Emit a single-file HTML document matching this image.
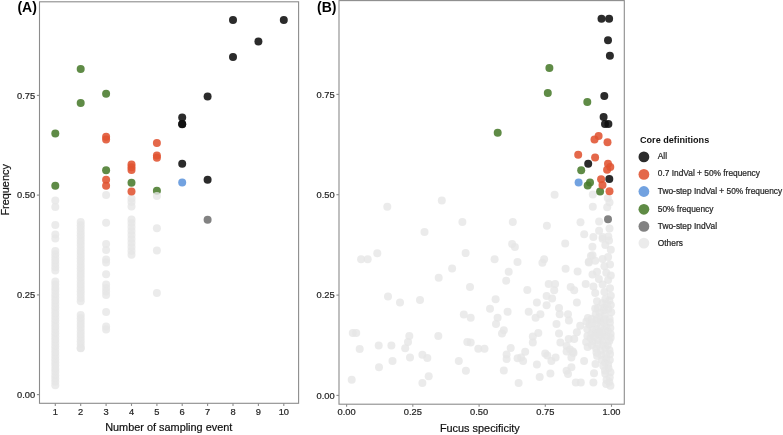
<!DOCTYPE html><html><head><meta charset="utf-8"><style>html,body{margin:0;padding:0;background:#fff;width:783px;height:435px;overflow:hidden}svg{display:block;will-change:transform}text{font-family:"Liberation Sans",sans-serif} .t{stroke:currentColor;stroke-width:0.25px}</style></head><body>
<svg width="783" height="435" viewBox="0 0 783 435">
<rect width="783" height="435" fill="#fff"/>
<circle cx="55.3" cy="200.5" r="4.0" fill="#e6e6e6" fill-opacity="0.8"/>
<circle cx="55.3" cy="207.0" r="4.0" fill="#e6e6e6" fill-opacity="0.8"/>
<circle cx="55.3" cy="225.0" r="4.0" fill="#e6e6e6" fill-opacity="0.8"/>
<circle cx="55.3" cy="234.5" r="4.0" fill="#e6e6e6" fill-opacity="0.8"/>
<circle cx="55.3" cy="238.5" r="4.0" fill="#e6e6e6" fill-opacity="0.8"/>
<circle cx="55.3" cy="251.0" r="4.0" fill="#e6e6e6" fill-opacity="0.8"/>
<circle cx="55.3" cy="254.2" r="4.0" fill="#e6e6e6" fill-opacity="0.8"/>
<circle cx="55.3" cy="257.5" r="4.0" fill="#e6e6e6" fill-opacity="0.8"/>
<circle cx="55.3" cy="260.8" r="4.0" fill="#e6e6e6" fill-opacity="0.8"/>
<circle cx="55.3" cy="264.0" r="4.0" fill="#e6e6e6" fill-opacity="0.8"/>
<circle cx="55.3" cy="267.2" r="4.0" fill="#e6e6e6" fill-opacity="0.8"/>
<circle cx="55.3" cy="270.5" r="4.0" fill="#e6e6e6" fill-opacity="0.8"/>
<circle cx="55.3" cy="281.4" r="4.0" fill="#e6e6e6" fill-opacity="0.8"/>
<circle cx="55.3" cy="284.6" r="4.0" fill="#e6e6e6" fill-opacity="0.8"/>
<circle cx="55.3" cy="287.9" r="4.0" fill="#e6e6e6" fill-opacity="0.8"/>
<circle cx="55.3" cy="291.1" r="4.0" fill="#e6e6e6" fill-opacity="0.8"/>
<circle cx="55.3" cy="294.4" r="4.0" fill="#e6e6e6" fill-opacity="0.8"/>
<circle cx="55.3" cy="297.6" r="4.0" fill="#e6e6e6" fill-opacity="0.8"/>
<circle cx="55.3" cy="300.8" r="4.0" fill="#e6e6e6" fill-opacity="0.8"/>
<circle cx="55.3" cy="304.1" r="4.0" fill="#e6e6e6" fill-opacity="0.8"/>
<circle cx="55.3" cy="307.3" r="4.0" fill="#e6e6e6" fill-opacity="0.8"/>
<circle cx="55.3" cy="310.6" r="4.0" fill="#e6e6e6" fill-opacity="0.8"/>
<circle cx="55.3" cy="313.8" r="4.0" fill="#e6e6e6" fill-opacity="0.8"/>
<circle cx="55.3" cy="317.0" r="4.0" fill="#e6e6e6" fill-opacity="0.8"/>
<circle cx="55.3" cy="320.3" r="4.0" fill="#e6e6e6" fill-opacity="0.8"/>
<circle cx="55.3" cy="323.5" r="4.0" fill="#e6e6e6" fill-opacity="0.8"/>
<circle cx="55.3" cy="326.8" r="4.0" fill="#e6e6e6" fill-opacity="0.8"/>
<circle cx="55.3" cy="330.0" r="4.0" fill="#e6e6e6" fill-opacity="0.8"/>
<circle cx="55.3" cy="333.2" r="4.0" fill="#e6e6e6" fill-opacity="0.8"/>
<circle cx="55.3" cy="336.5" r="4.0" fill="#e6e6e6" fill-opacity="0.8"/>
<circle cx="55.3" cy="339.7" r="4.0" fill="#e6e6e6" fill-opacity="0.8"/>
<circle cx="55.3" cy="343.0" r="4.0" fill="#e6e6e6" fill-opacity="0.8"/>
<circle cx="55.3" cy="346.2" r="4.0" fill="#e6e6e6" fill-opacity="0.8"/>
<circle cx="55.3" cy="349.4" r="4.0" fill="#e6e6e6" fill-opacity="0.8"/>
<circle cx="55.3" cy="352.7" r="4.0" fill="#e6e6e6" fill-opacity="0.8"/>
<circle cx="55.3" cy="355.9" r="4.0" fill="#e6e6e6" fill-opacity="0.8"/>
<circle cx="55.3" cy="359.2" r="4.0" fill="#e6e6e6" fill-opacity="0.8"/>
<circle cx="55.3" cy="362.4" r="4.0" fill="#e6e6e6" fill-opacity="0.8"/>
<circle cx="55.3" cy="365.6" r="4.0" fill="#e6e6e6" fill-opacity="0.8"/>
<circle cx="55.3" cy="368.9" r="4.0" fill="#e6e6e6" fill-opacity="0.8"/>
<circle cx="55.3" cy="372.1" r="4.0" fill="#e6e6e6" fill-opacity="0.8"/>
<circle cx="55.3" cy="375.4" r="4.0" fill="#e6e6e6" fill-opacity="0.8"/>
<circle cx="55.3" cy="378.6" r="4.0" fill="#e6e6e6" fill-opacity="0.8"/>
<circle cx="55.3" cy="381.8" r="4.0" fill="#e6e6e6" fill-opacity="0.8"/>
<circle cx="55.3" cy="385.2" r="4.0" fill="#e6e6e6" fill-opacity="0.8"/>
<circle cx="80.7" cy="222.0" r="4.0" fill="#e6e6e6" fill-opacity="0.8"/>
<circle cx="80.7" cy="225.3" r="4.0" fill="#e6e6e6" fill-opacity="0.8"/>
<circle cx="80.7" cy="228.6" r="4.0" fill="#e6e6e6" fill-opacity="0.8"/>
<circle cx="80.7" cy="231.9" r="4.0" fill="#e6e6e6" fill-opacity="0.8"/>
<circle cx="80.7" cy="235.2" r="4.0" fill="#e6e6e6" fill-opacity="0.8"/>
<circle cx="80.7" cy="238.5" r="4.0" fill="#e6e6e6" fill-opacity="0.8"/>
<circle cx="80.7" cy="241.8" r="4.0" fill="#e6e6e6" fill-opacity="0.8"/>
<circle cx="80.7" cy="245.1" r="4.0" fill="#e6e6e6" fill-opacity="0.8"/>
<circle cx="80.7" cy="248.4" r="4.0" fill="#e6e6e6" fill-opacity="0.8"/>
<circle cx="80.7" cy="251.7" r="4.0" fill="#e6e6e6" fill-opacity="0.8"/>
<circle cx="80.7" cy="255.0" r="4.0" fill="#e6e6e6" fill-opacity="0.8"/>
<circle cx="80.7" cy="258.3" r="4.0" fill="#e6e6e6" fill-opacity="0.8"/>
<circle cx="80.7" cy="261.6" r="4.0" fill="#e6e6e6" fill-opacity="0.8"/>
<circle cx="80.7" cy="264.9" r="4.0" fill="#e6e6e6" fill-opacity="0.8"/>
<circle cx="80.7" cy="268.2" r="4.0" fill="#e6e6e6" fill-opacity="0.8"/>
<circle cx="80.7" cy="271.5" r="4.0" fill="#e6e6e6" fill-opacity="0.8"/>
<circle cx="80.7" cy="274.8" r="4.0" fill="#e6e6e6" fill-opacity="0.8"/>
<circle cx="80.7" cy="278.1" r="4.0" fill="#e6e6e6" fill-opacity="0.8"/>
<circle cx="80.7" cy="281.4" r="4.0" fill="#e6e6e6" fill-opacity="0.8"/>
<circle cx="80.7" cy="284.7" r="4.0" fill="#e6e6e6" fill-opacity="0.8"/>
<circle cx="80.7" cy="288.0" r="4.0" fill="#e6e6e6" fill-opacity="0.8"/>
<circle cx="80.7" cy="291.3" r="4.0" fill="#e6e6e6" fill-opacity="0.8"/>
<circle cx="80.7" cy="294.6" r="4.0" fill="#e6e6e6" fill-opacity="0.8"/>
<circle cx="80.7" cy="297.9" r="4.0" fill="#e6e6e6" fill-opacity="0.8"/>
<circle cx="80.7" cy="301.2" r="4.0" fill="#e6e6e6" fill-opacity="0.8"/>
<circle cx="80.7" cy="314.9" r="4.0" fill="#e6e6e6" fill-opacity="0.8"/>
<circle cx="80.7" cy="318.2" r="4.0" fill="#e6e6e6" fill-opacity="0.8"/>
<circle cx="80.7" cy="321.5" r="4.0" fill="#e6e6e6" fill-opacity="0.8"/>
<circle cx="80.7" cy="324.8" r="4.0" fill="#e6e6e6" fill-opacity="0.8"/>
<circle cx="80.7" cy="328.1" r="4.0" fill="#e6e6e6" fill-opacity="0.8"/>
<circle cx="80.7" cy="331.4" r="4.0" fill="#e6e6e6" fill-opacity="0.8"/>
<circle cx="80.7" cy="334.7" r="4.0" fill="#e6e6e6" fill-opacity="0.8"/>
<circle cx="80.7" cy="338.0" r="4.0" fill="#e6e6e6" fill-opacity="0.8"/>
<circle cx="80.7" cy="341.3" r="4.0" fill="#e6e6e6" fill-opacity="0.8"/>
<circle cx="80.7" cy="344.6" r="4.0" fill="#e6e6e6" fill-opacity="0.8"/>
<circle cx="80.7" cy="347.9" r="4.0" fill="#e6e6e6" fill-opacity="0.8"/>
<circle cx="80.7" cy="348.3" r="4.0" fill="#e6e6e6" fill-opacity="0.8"/>
<circle cx="106.1" cy="195.1" r="4.0" fill="#e6e6e6" fill-opacity="0.8"/>
<circle cx="106.1" cy="222.7" r="4.0" fill="#e6e6e6" fill-opacity="0.8"/>
<circle cx="106.1" cy="244.0" r="4.0" fill="#e6e6e6" fill-opacity="0.8"/>
<circle cx="106.1" cy="250.0" r="4.0" fill="#e6e6e6" fill-opacity="0.8"/>
<circle cx="106.1" cy="259.5" r="4.0" fill="#e6e6e6" fill-opacity="0.8"/>
<circle cx="106.1" cy="262.5" r="4.0" fill="#e6e6e6" fill-opacity="0.8"/>
<circle cx="106.1" cy="274.3" r="4.0" fill="#e6e6e6" fill-opacity="0.8"/>
<circle cx="106.1" cy="284.5" r="4.0" fill="#e6e6e6" fill-opacity="0.8"/>
<circle cx="106.1" cy="288.0" r="4.0" fill="#e6e6e6" fill-opacity="0.8"/>
<circle cx="106.1" cy="291.5" r="4.0" fill="#e6e6e6" fill-opacity="0.8"/>
<circle cx="106.1" cy="295.0" r="4.0" fill="#e6e6e6" fill-opacity="0.8"/>
<circle cx="106.1" cy="312.0" r="4.0" fill="#e6e6e6" fill-opacity="0.8"/>
<circle cx="106.1" cy="326.5" r="4.0" fill="#e6e6e6" fill-opacity="0.8"/>
<circle cx="106.1" cy="329.5" r="4.0" fill="#e6e6e6" fill-opacity="0.8"/>
<circle cx="131.5" cy="198.5" r="4.0" fill="#e6e6e6" fill-opacity="0.8"/>
<circle cx="131.5" cy="202.0" r="4.0" fill="#e6e6e6" fill-opacity="0.8"/>
<circle cx="131.5" cy="206.5" r="4.0" fill="#e6e6e6" fill-opacity="0.8"/>
<circle cx="131.5" cy="219.5" r="4.0" fill="#e6e6e6" fill-opacity="0.8"/>
<circle cx="131.5" cy="223.0" r="4.0" fill="#e6e6e6" fill-opacity="0.8"/>
<circle cx="131.5" cy="227.0" r="4.0" fill="#e6e6e6" fill-opacity="0.8"/>
<circle cx="131.5" cy="231.0" r="4.0" fill="#e6e6e6" fill-opacity="0.8"/>
<circle cx="131.5" cy="235.0" r="4.0" fill="#e6e6e6" fill-opacity="0.8"/>
<circle cx="131.5" cy="239.0" r="4.0" fill="#e6e6e6" fill-opacity="0.8"/>
<circle cx="131.5" cy="243.0" r="4.0" fill="#e6e6e6" fill-opacity="0.8"/>
<circle cx="131.5" cy="247.0" r="4.0" fill="#e6e6e6" fill-opacity="0.8"/>
<circle cx="131.5" cy="251.0" r="4.0" fill="#e6e6e6" fill-opacity="0.8"/>
<circle cx="131.5" cy="254.7" r="4.0" fill="#e6e6e6" fill-opacity="0.8"/>
<circle cx="156.9" cy="228.3" r="4.0" fill="#e6e6e6" fill-opacity="0.8"/>
<circle cx="156.9" cy="250.4" r="4.0" fill="#e6e6e6" fill-opacity="0.8"/>
<circle cx="156.9" cy="293.1" r="4.0" fill="#e6e6e6" fill-opacity="0.8"/>
<circle cx="55.3" cy="133.4" r="4.0" fill="#497b2c" fill-opacity="0.88"/>
<circle cx="55.3" cy="185.8" r="4.0" fill="#497b2c" fill-opacity="0.88"/>
<circle cx="80.7" cy="69.0" r="4.0" fill="#497b2c" fill-opacity="0.88"/>
<circle cx="80.7" cy="102.9" r="4.0" fill="#497b2c" fill-opacity="0.88"/>
<circle cx="106.1" cy="93.7" r="4.0" fill="#497b2c" fill-opacity="0.88"/>
<circle cx="106.1" cy="170.2" r="4.0" fill="#497b2c" fill-opacity="0.88"/>
<circle cx="131.5" cy="182.8" r="4.0" fill="#497b2c" fill-opacity="0.88"/>
<circle cx="156.9" cy="190.8" r="4.0" fill="#497b2c" fill-opacity="0.88"/>
<circle cx="106.1" cy="136.8" r="4.0" fill="#e05331" fill-opacity="0.88"/>
<circle cx="106.1" cy="139.6" r="4.0" fill="#e05331" fill-opacity="0.88"/>
<circle cx="106.1" cy="179.8" r="4.0" fill="#e05331" fill-opacity="0.88"/>
<circle cx="106.1" cy="185.7" r="4.0" fill="#e05331" fill-opacity="0.88"/>
<circle cx="131.5" cy="164.5" r="4.0" fill="#e05331" fill-opacity="0.88"/>
<circle cx="131.5" cy="167.3" r="4.0" fill="#e05331" fill-opacity="0.88"/>
<circle cx="131.5" cy="170.1" r="4.0" fill="#e05331" fill-opacity="0.88"/>
<circle cx="131.5" cy="191.6" r="4.0" fill="#e05331" fill-opacity="0.88"/>
<circle cx="156.9" cy="143.0" r="4.0" fill="#e05331" fill-opacity="0.88"/>
<circle cx="156.9" cy="155.4" r="4.0" fill="#e05331" fill-opacity="0.88"/>
<circle cx="156.9" cy="157.7" r="4.0" fill="#e05331" fill-opacity="0.88"/>
<circle cx="182.2" cy="117.5" r="4.0" fill="#0e0e0e" fill-opacity="0.88"/>
<circle cx="182.2" cy="124.1" r="4.0" fill="#0e0e0e" fill-opacity="0.88"/>
<circle cx="182.2" cy="124.3" r="4.0" fill="#0e0e0e" fill-opacity="0.88"/>
<circle cx="182.2" cy="163.8" r="4.0" fill="#0e0e0e" fill-opacity="0.88"/>
<circle cx="207.6" cy="96.6" r="4.0" fill="#0e0e0e" fill-opacity="0.88"/>
<circle cx="207.6" cy="179.7" r="4.0" fill="#0e0e0e" fill-opacity="0.88"/>
<circle cx="233.0" cy="19.9" r="4.0" fill="#0e0e0e" fill-opacity="0.88"/>
<circle cx="233.0" cy="56.9" r="4.0" fill="#0e0e0e" fill-opacity="0.88"/>
<circle cx="258.4" cy="41.4" r="4.0" fill="#0e0e0e" fill-opacity="0.88"/>
<circle cx="283.8" cy="19.9" r="4.0" fill="#0e0e0e" fill-opacity="0.88"/>
<circle cx="182.2" cy="182.5" r="4.0" fill="#5f95dc" fill-opacity="0.88"/>
<circle cx="207.6" cy="219.7" r="4.0" fill="#717171" fill-opacity="0.88"/>
<circle cx="156.9" cy="196.0" r="4.0" fill="#e6e6e6" fill-opacity="0.8"/>
<circle cx="387.3" cy="206.8" r="4.0" fill="#e6e6e6" fill-opacity="0.8"/>
<circle cx="361.1" cy="259.2" r="4.0" fill="#e6e6e6" fill-opacity="0.8"/>
<circle cx="367.7" cy="259.2" r="4.0" fill="#e6e6e6" fill-opacity="0.8"/>
<circle cx="377.3" cy="253.3" r="4.0" fill="#e6e6e6" fill-opacity="0.8"/>
<circle cx="388.0" cy="296.4" r="4.0" fill="#e6e6e6" fill-opacity="0.8"/>
<circle cx="352.8" cy="333.1" r="4.0" fill="#e6e6e6" fill-opacity="0.8"/>
<circle cx="356.2" cy="333.1" r="4.0" fill="#e6e6e6" fill-opacity="0.8"/>
<circle cx="359.7" cy="349.0" r="4.0" fill="#e6e6e6" fill-opacity="0.8"/>
<circle cx="378.7" cy="345.5" r="4.0" fill="#e6e6e6" fill-opacity="0.8"/>
<circle cx="391.4" cy="345.5" r="4.0" fill="#e6e6e6" fill-opacity="0.8"/>
<circle cx="400.0" cy="302.5" r="4.0" fill="#e6e6e6" fill-opacity="0.8"/>
<circle cx="351.7" cy="379.7" r="4.0" fill="#e6e6e6" fill-opacity="0.8"/>
<circle cx="379.0" cy="367.2" r="4.0" fill="#e6e6e6" fill-opacity="0.8"/>
<circle cx="392.5" cy="361.0" r="4.0" fill="#e6e6e6" fill-opacity="0.8"/>
<circle cx="441.8" cy="200.4" r="4.0" fill="#e6e6e6" fill-opacity="0.8"/>
<circle cx="424.5" cy="231.9" r="4.0" fill="#e6e6e6" fill-opacity="0.8"/>
<circle cx="452.1" cy="268.4" r="4.0" fill="#e6e6e6" fill-opacity="0.8"/>
<circle cx="438.7" cy="277.8" r="4.0" fill="#e6e6e6" fill-opacity="0.8"/>
<circle cx="420.0" cy="300.0" r="4.0" fill="#e6e6e6" fill-opacity="0.8"/>
<circle cx="409.3" cy="336.1" r="4.0" fill="#e6e6e6" fill-opacity="0.8"/>
<circle cx="408.0" cy="342.0" r="4.0" fill="#e6e6e6" fill-opacity="0.8"/>
<circle cx="405.2" cy="348.3" r="4.0" fill="#e6e6e6" fill-opacity="0.8"/>
<circle cx="438.3" cy="336.1" r="4.0" fill="#e6e6e6" fill-opacity="0.8"/>
<circle cx="410.0" cy="357.4" r="4.0" fill="#e6e6e6" fill-opacity="0.8"/>
<circle cx="422.4" cy="354.8" r="4.0" fill="#e6e6e6" fill-opacity="0.8"/>
<circle cx="427.3" cy="357.9" r="4.0" fill="#e6e6e6" fill-opacity="0.8"/>
<circle cx="428.7" cy="376.2" r="4.0" fill="#e6e6e6" fill-opacity="0.8"/>
<circle cx="422.4" cy="383.1" r="4.0" fill="#e6e6e6" fill-opacity="0.8"/>
<circle cx="458.8" cy="361.0" r="4.0" fill="#e6e6e6" fill-opacity="0.8"/>
<circle cx="462.4" cy="222.0" r="4.0" fill="#e6e6e6" fill-opacity="0.8"/>
<circle cx="512.8" cy="222.0" r="4.0" fill="#e6e6e6" fill-opacity="0.8"/>
<circle cx="512.1" cy="243.9" r="4.0" fill="#e6e6e6" fill-opacity="0.8"/>
<circle cx="514.9" cy="246.9" r="4.0" fill="#e6e6e6" fill-opacity="0.8"/>
<circle cx="465.6" cy="253.1" r="4.0" fill="#e6e6e6" fill-opacity="0.8"/>
<circle cx="494.6" cy="259.3" r="4.0" fill="#e6e6e6" fill-opacity="0.8"/>
<circle cx="517.5" cy="262.1" r="4.0" fill="#e6e6e6" fill-opacity="0.8"/>
<circle cx="508.7" cy="271.7" r="4.0" fill="#e6e6e6" fill-opacity="0.8"/>
<circle cx="506.2" cy="280.7" r="4.0" fill="#e6e6e6" fill-opacity="0.8"/>
<circle cx="470.0" cy="286.9" r="4.0" fill="#e6e6e6" fill-opacity="0.8"/>
<circle cx="495.6" cy="299.2" r="4.0" fill="#e6e6e6" fill-opacity="0.8"/>
<circle cx="490.0" cy="308.8" r="4.0" fill="#e6e6e6" fill-opacity="0.8"/>
<circle cx="507.6" cy="311.8" r="4.0" fill="#e6e6e6" fill-opacity="0.8"/>
<circle cx="463.8" cy="314.6" r="4.0" fill="#e6e6e6" fill-opacity="0.8"/>
<circle cx="470.7" cy="317.8" r="4.0" fill="#e6e6e6" fill-opacity="0.8"/>
<circle cx="497.6" cy="317.8" r="4.0" fill="#e6e6e6" fill-opacity="0.8"/>
<circle cx="496.0" cy="324.0" r="4.0" fill="#e6e6e6" fill-opacity="0.8"/>
<circle cx="503.8" cy="330.2" r="4.0" fill="#e6e6e6" fill-opacity="0.8"/>
<circle cx="502.0" cy="333.6" r="4.0" fill="#e6e6e6" fill-opacity="0.8"/>
<circle cx="467.3" cy="341.9" r="4.0" fill="#e6e6e6" fill-opacity="0.8"/>
<circle cx="470.7" cy="342.6" r="4.0" fill="#e6e6e6" fill-opacity="0.8"/>
<circle cx="478.3" cy="348.8" r="4.0" fill="#e6e6e6" fill-opacity="0.8"/>
<circle cx="484.5" cy="348.8" r="4.0" fill="#e6e6e6" fill-opacity="0.8"/>
<circle cx="510.7" cy="348.1" r="4.0" fill="#e6e6e6" fill-opacity="0.8"/>
<circle cx="506.6" cy="354.5" r="4.0" fill="#e6e6e6" fill-opacity="0.8"/>
<circle cx="506.6" cy="359.0" r="4.0" fill="#e6e6e6" fill-opacity="0.8"/>
<circle cx="465.9" cy="370.7" r="4.0" fill="#e6e6e6" fill-opacity="0.8"/>
<circle cx="503.8" cy="370.4" r="4.0" fill="#e6e6e6" fill-opacity="0.8"/>
<circle cx="517.6" cy="358.3" r="4.0" fill="#e6e6e6" fill-opacity="0.8"/>
<circle cx="518.6" cy="383.1" r="4.0" fill="#e6e6e6" fill-opacity="0.8"/>
<circle cx="554.6" cy="194.7" r="4.0" fill="#e6e6e6" fill-opacity="0.8"/>
<circle cx="546.9" cy="225.7" r="4.0" fill="#e6e6e6" fill-opacity="0.8"/>
<circle cx="580.5" cy="222.2" r="4.0" fill="#e6e6e6" fill-opacity="0.8"/>
<circle cx="565.2" cy="243.4" r="4.0" fill="#e6e6e6" fill-opacity="0.8"/>
<circle cx="544.1" cy="259.3" r="4.0" fill="#e6e6e6" fill-opacity="0.8"/>
<circle cx="542.4" cy="262.8" r="4.0" fill="#e6e6e6" fill-opacity="0.8"/>
<circle cx="565.6" cy="268.7" r="4.0" fill="#e6e6e6" fill-opacity="0.8"/>
<circle cx="577.6" cy="271.4" r="4.0" fill="#e6e6e6" fill-opacity="0.8"/>
<circle cx="548.7" cy="283.9" r="4.0" fill="#e6e6e6" fill-opacity="0.8"/>
<circle cx="555.1" cy="283.9" r="4.0" fill="#e6e6e6" fill-opacity="0.8"/>
<circle cx="554.2" cy="290.3" r="4.0" fill="#e6e6e6" fill-opacity="0.8"/>
<circle cx="570.7" cy="286.9" r="4.0" fill="#e6e6e6" fill-opacity="0.8"/>
<circle cx="574.2" cy="290.3" r="4.0" fill="#e6e6e6" fill-opacity="0.8"/>
<circle cx="527.3" cy="289.9" r="4.0" fill="#e6e6e6" fill-opacity="0.8"/>
<circle cx="546.6" cy="296.0" r="4.0" fill="#e6e6e6" fill-opacity="0.8"/>
<circle cx="552.1" cy="298.5" r="4.0" fill="#e6e6e6" fill-opacity="0.8"/>
<circle cx="536.9" cy="302.6" r="4.0" fill="#e6e6e6" fill-opacity="0.8"/>
<circle cx="546.6" cy="305.3" r="4.0" fill="#e6e6e6" fill-opacity="0.8"/>
<circle cx="528.7" cy="311.8" r="4.0" fill="#e6e6e6" fill-opacity="0.8"/>
<circle cx="540.4" cy="314.3" r="4.0" fill="#e6e6e6" fill-opacity="0.8"/>
<circle cx="535.6" cy="317.8" r="4.0" fill="#e6e6e6" fill-opacity="0.8"/>
<circle cx="559.0" cy="308.1" r="4.0" fill="#e6e6e6" fill-opacity="0.8"/>
<circle cx="559.7" cy="314.3" r="4.0" fill="#e6e6e6" fill-opacity="0.8"/>
<circle cx="568.0" cy="314.3" r="4.0" fill="#e6e6e6" fill-opacity="0.8"/>
<circle cx="568.9" cy="320.5" r="4.0" fill="#e6e6e6" fill-opacity="0.8"/>
<circle cx="576.9" cy="302.6" r="4.0" fill="#e6e6e6" fill-opacity="0.8"/>
<circle cx="556.5" cy="324.0" r="4.0" fill="#e6e6e6" fill-opacity="0.8"/>
<circle cx="538.3" cy="332.9" r="4.0" fill="#e6e6e6" fill-opacity="0.8"/>
<circle cx="532.8" cy="336.4" r="4.0" fill="#e6e6e6" fill-opacity="0.8"/>
<circle cx="532.8" cy="342.6" r="4.0" fill="#e6e6e6" fill-opacity="0.8"/>
<circle cx="559.0" cy="333.6" r="4.0" fill="#e6e6e6" fill-opacity="0.8"/>
<circle cx="560.4" cy="342.6" r="4.0" fill="#e6e6e6" fill-opacity="0.8"/>
<circle cx="568.7" cy="339.1" r="4.0" fill="#e6e6e6" fill-opacity="0.8"/>
<circle cx="574.2" cy="339.1" r="4.0" fill="#e6e6e6" fill-opacity="0.8"/>
<circle cx="566.6" cy="346.0" r="4.0" fill="#e6e6e6" fill-opacity="0.8"/>
<circle cx="570.0" cy="349.5" r="4.0" fill="#e6e6e6" fill-opacity="0.8"/>
<circle cx="576.9" cy="332.2" r="4.0" fill="#e6e6e6" fill-opacity="0.8"/>
<circle cx="525.2" cy="351.8" r="4.0" fill="#e6e6e6" fill-opacity="0.8"/>
<circle cx="545.2" cy="353.5" r="4.0" fill="#e6e6e6" fill-opacity="0.8"/>
<circle cx="573.5" cy="352.9" r="4.0" fill="#e6e6e6" fill-opacity="0.8"/>
<circle cx="521.1" cy="357.6" r="4.0" fill="#e6e6e6" fill-opacity="0.8"/>
<circle cx="523.1" cy="361.0" r="4.0" fill="#e6e6e6" fill-opacity="0.8"/>
<circle cx="547.3" cy="355.5" r="4.0" fill="#e6e6e6" fill-opacity="0.8"/>
<circle cx="555.6" cy="357.6" r="4.0" fill="#e6e6e6" fill-opacity="0.8"/>
<circle cx="551.4" cy="361.0" r="4.0" fill="#e6e6e6" fill-opacity="0.8"/>
<circle cx="536.9" cy="364.5" r="4.0" fill="#e6e6e6" fill-opacity="0.8"/>
<circle cx="571.4" cy="357.6" r="4.0" fill="#e6e6e6" fill-opacity="0.8"/>
<circle cx="566.6" cy="351.4" r="4.0" fill="#e6e6e6" fill-opacity="0.8"/>
<circle cx="572.8" cy="351.4" r="4.0" fill="#e6e6e6" fill-opacity="0.8"/>
<circle cx="571.4" cy="367.2" r="4.0" fill="#e6e6e6" fill-opacity="0.8"/>
<circle cx="566.6" cy="370.7" r="4.0" fill="#e6e6e6" fill-opacity="0.8"/>
<circle cx="568.0" cy="374.1" r="4.0" fill="#e6e6e6" fill-opacity="0.8"/>
<circle cx="550.4" cy="373.4" r="4.0" fill="#e6e6e6" fill-opacity="0.8"/>
<circle cx="539.7" cy="376.9" r="4.0" fill="#e6e6e6" fill-opacity="0.8"/>
<circle cx="575.8" cy="382.6" r="4.0" fill="#e6e6e6" fill-opacity="0.8"/>
<circle cx="580.8" cy="382.6" r="4.0" fill="#e6e6e6" fill-opacity="0.8"/>
<circle cx="592.8" cy="194.6" r="4.0" fill="#e6e6e6" fill-opacity="0.8"/>
<circle cx="607.8" cy="198.0" r="4.0" fill="#e6e6e6" fill-opacity="0.8"/>
<circle cx="609.5" cy="202.6" r="4.0" fill="#e6e6e6" fill-opacity="0.8"/>
<circle cx="607.2" cy="207.2" r="4.0" fill="#e6e6e6" fill-opacity="0.8"/>
<circle cx="592.8" cy="206.7" r="4.0" fill="#e6e6e6" fill-opacity="0.8"/>
<circle cx="599.1" cy="221.6" r="4.0" fill="#e6e6e6" fill-opacity="0.8"/>
<circle cx="584.2" cy="234.3" r="4.0" fill="#e6e6e6" fill-opacity="0.8"/>
<circle cx="599.1" cy="230.8" r="4.0" fill="#e6e6e6" fill-opacity="0.8"/>
<circle cx="609.5" cy="228.5" r="4.0" fill="#e6e6e6" fill-opacity="0.8"/>
<circle cx="593.4" cy="237.1" r="4.0" fill="#e6e6e6" fill-opacity="0.8"/>
<circle cx="602.6" cy="237.1" r="4.0" fill="#e6e6e6" fill-opacity="0.8"/>
<circle cx="608.3" cy="236.6" r="4.0" fill="#e6e6e6" fill-opacity="0.8"/>
<circle cx="592.4" cy="246.7" r="4.0" fill="#e6e6e6" fill-opacity="0.8"/>
<circle cx="590.9" cy="256.0" r="4.0" fill="#e6e6e6" fill-opacity="0.8"/>
<circle cx="588.8" cy="261.7" r="4.0" fill="#e6e6e6" fill-opacity="0.8"/>
<circle cx="585.7" cy="284.0" r="4.0" fill="#e6e6e6" fill-opacity="0.8"/>
<circle cx="584.1" cy="360.9" r="4.0" fill="#e6e6e6" fill-opacity="0.8"/>
<circle cx="595.5" cy="364.0" r="4.0" fill="#e6e6e6" fill-opacity="0.8"/>
<circle cx="594.0" cy="373.3" r="4.0" fill="#e6e6e6" fill-opacity="0.8"/>
<circle cx="593.4" cy="382.6" r="4.0" fill="#e6e6e6" fill-opacity="0.8"/>
<circle cx="602.6" cy="238.7" r="4.0" fill="#e6e6e6" fill-opacity="0.8"/>
<circle cx="609.0" cy="240.5" r="4.0" fill="#e6e6e6" fill-opacity="0.8"/>
<circle cx="605.3" cy="245.0" r="4.0" fill="#e6e6e6" fill-opacity="0.8"/>
<circle cx="610.8" cy="249.7" r="4.0" fill="#e6e6e6" fill-opacity="0.8"/>
<circle cx="592.5" cy="255.2" r="4.0" fill="#e6e6e6" fill-opacity="0.8"/>
<circle cx="588.8" cy="262.6" r="4.0" fill="#e6e6e6" fill-opacity="0.8"/>
<circle cx="595.2" cy="260.7" r="4.0" fill="#e6e6e6" fill-opacity="0.8"/>
<circle cx="602.6" cy="258.9" r="4.0" fill="#e6e6e6" fill-opacity="0.8"/>
<circle cx="608.1" cy="257.0" r="4.0" fill="#e6e6e6" fill-opacity="0.8"/>
<circle cx="610.0" cy="264.4" r="4.0" fill="#e6e6e6" fill-opacity="0.8"/>
<circle cx="604.4" cy="266.2" r="4.0" fill="#e6e6e6" fill-opacity="0.8"/>
<circle cx="592.5" cy="274.5" r="4.0" fill="#e6e6e6" fill-opacity="0.8"/>
<circle cx="597.0" cy="271.8" r="4.0" fill="#e6e6e6" fill-opacity="0.8"/>
<circle cx="606.3" cy="272.7" r="4.0" fill="#e6e6e6" fill-opacity="0.8"/>
<circle cx="610.8" cy="275.4" r="4.0" fill="#e6e6e6" fill-opacity="0.8"/>
<circle cx="598.9" cy="279.1" r="4.0" fill="#e6e6e6" fill-opacity="0.8"/>
<circle cx="608.1" cy="280.0" r="4.0" fill="#e6e6e6" fill-opacity="0.8"/>
<circle cx="593.4" cy="286.5" r="4.0" fill="#e6e6e6" fill-opacity="0.8"/>
<circle cx="602.6" cy="284.6" r="4.0" fill="#e6e6e6" fill-opacity="0.8"/>
<circle cx="610.0" cy="288.3" r="4.0" fill="#e6e6e6" fill-opacity="0.8"/>
<circle cx="595.2" cy="292.9" r="4.0" fill="#e6e6e6" fill-opacity="0.8"/>
<circle cx="604.4" cy="292.0" r="4.0" fill="#e6e6e6" fill-opacity="0.8"/>
<circle cx="610.8" cy="295.7" r="4.0" fill="#e6e6e6" fill-opacity="0.8"/>
<circle cx="597.0" cy="301.2" r="4.0" fill="#e6e6e6" fill-opacity="0.8"/>
<circle cx="605.3" cy="299.3" r="4.0" fill="#e6e6e6" fill-opacity="0.8"/>
<circle cx="595.2" cy="308.5" r="4.0" fill="#e6e6e6" fill-opacity="0.8"/>
<circle cx="604.4" cy="307.6" r="4.0" fill="#e6e6e6" fill-opacity="0.8"/>
<circle cx="610.8" cy="304.9" r="4.0" fill="#e6e6e6" fill-opacity="0.8"/>
<circle cx="611.2" cy="312.2" r="4.0" fill="#e6e6e6" fill-opacity="0.8"/>
<circle cx="597.8" cy="308.1" r="4.0" fill="#e6e6e6" fill-opacity="0.8"/>
<circle cx="595.7" cy="314.3" r="4.0" fill="#e6e6e6" fill-opacity="0.8"/>
<circle cx="604.0" cy="310.2" r="4.0" fill="#e6e6e6" fill-opacity="0.8"/>
<circle cx="589.5" cy="324.7" r="4.0" fill="#e6e6e6" fill-opacity="0.8"/>
<circle cx="587.4" cy="336.0" r="4.0" fill="#e6e6e6" fill-opacity="0.8"/>
<circle cx="592.6" cy="341.2" r="4.0" fill="#e6e6e6" fill-opacity="0.8"/>
<circle cx="595.7" cy="333.0" r="4.0" fill="#e6e6e6" fill-opacity="0.8"/>
<circle cx="597.8" cy="344.3" r="4.0" fill="#e6e6e6" fill-opacity="0.8"/>
<circle cx="600.9" cy="350.5" r="4.0" fill="#e6e6e6" fill-opacity="0.8"/>
<circle cx="601.9" cy="359.9" r="4.0" fill="#e6e6e6" fill-opacity="0.8"/>
<circle cx="580.2" cy="325.7" r="4.0" fill="#e6e6e6" fill-opacity="0.8"/>
<circle cx="597.1" cy="356.0" r="4.0" fill="#e6e6e6" fill-opacity="0.8"/>
<circle cx="602.4" cy="303.2" r="4.0" fill="#e6e6e6" fill-opacity="0.8"/>
<circle cx="606.5" cy="336.5" r="4.0" fill="#e6e6e6" fill-opacity="0.8"/>
<circle cx="610.0" cy="354.0" r="4.0" fill="#e6e6e6" fill-opacity="0.8"/>
<circle cx="606.2" cy="384.0" r="4.0" fill="#e6e6e6" fill-opacity="0.8"/>
<circle cx="605.3" cy="373.8" r="4.0" fill="#e6e6e6" fill-opacity="0.8"/>
<circle cx="606.2" cy="326.5" r="4.0" fill="#e6e6e6" fill-opacity="0.8"/>
<circle cx="604.6" cy="315.5" r="4.0" fill="#e6e6e6" fill-opacity="0.8"/>
<circle cx="601.5" cy="354.9" r="4.0" fill="#e6e6e6" fill-opacity="0.8"/>
<circle cx="587.6" cy="347.1" r="4.0" fill="#e6e6e6" fill-opacity="0.8"/>
<circle cx="606.3" cy="358.5" r="4.0" fill="#e6e6e6" fill-opacity="0.8"/>
<circle cx="600.5" cy="327.0" r="4.0" fill="#e6e6e6" fill-opacity="0.8"/>
<circle cx="608.5" cy="368.3" r="4.0" fill="#e6e6e6" fill-opacity="0.8"/>
<circle cx="600.2" cy="321.0" r="4.0" fill="#e6e6e6" fill-opacity="0.8"/>
<circle cx="607.7" cy="345.2" r="4.0" fill="#e6e6e6" fill-opacity="0.8"/>
<circle cx="605.2" cy="362.7" r="4.0" fill="#e6e6e6" fill-opacity="0.8"/>
<circle cx="610.4" cy="372.2" r="4.0" fill="#e6e6e6" fill-opacity="0.8"/>
<circle cx="602.5" cy="340.8" r="4.0" fill="#e6e6e6" fill-opacity="0.8"/>
<circle cx="602.6" cy="333.2" r="4.0" fill="#e6e6e6" fill-opacity="0.8"/>
<circle cx="596.3" cy="323.9" r="4.0" fill="#e6e6e6" fill-opacity="0.8"/>
<circle cx="607.9" cy="330.9" r="4.0" fill="#e6e6e6" fill-opacity="0.8"/>
<circle cx="609.3" cy="382.0" r="4.0" fill="#e6e6e6" fill-opacity="0.8"/>
<circle cx="609.7" cy="377.4" r="4.0" fill="#e6e6e6" fill-opacity="0.8"/>
<circle cx="587.3" cy="329.2" r="4.0" fill="#e6e6e6" fill-opacity="0.8"/>
<circle cx="598.0" cy="340.1" r="4.0" fill="#e6e6e6" fill-opacity="0.8"/>
<circle cx="592.6" cy="329.5" r="4.0" fill="#e6e6e6" fill-opacity="0.8"/>
<circle cx="591.6" cy="319.0" r="4.0" fill="#e6e6e6" fill-opacity="0.8"/>
<circle cx="599.0" cy="316.9" r="4.0" fill="#e6e6e6" fill-opacity="0.8"/>
<circle cx="609.4" cy="350.2" r="4.0" fill="#e6e6e6" fill-opacity="0.8"/>
<circle cx="590.5" cy="337.9" r="4.0" fill="#e6e6e6" fill-opacity="0.8"/>
<circle cx="609.3" cy="341.1" r="4.0" fill="#e6e6e6" fill-opacity="0.8"/>
<circle cx="609.8" cy="360.1" r="4.0" fill="#e6e6e6" fill-opacity="0.8"/>
<circle cx="609.6" cy="318.9" r="4.0" fill="#e6e6e6" fill-opacity="0.8"/>
<circle cx="605.0" cy="370.4" r="4.0" fill="#e6e6e6" fill-opacity="0.8"/>
<circle cx="591.9" cy="345.3" r="4.0" fill="#e6e6e6" fill-opacity="0.8"/>
<circle cx="586.4" cy="321.5" r="4.0" fill="#e6e6e6" fill-opacity="0.8"/>
<circle cx="609.9" cy="322.6" r="4.0" fill="#e6e6e6" fill-opacity="0.8"/>
<circle cx="608.1" cy="364.5" r="4.0" fill="#e6e6e6" fill-opacity="0.8"/>
<circle cx="608.4" cy="309.0" r="4.0" fill="#e6e6e6" fill-opacity="0.8"/>
<circle cx="605.3" cy="348.0" r="4.0" fill="#e6e6e6" fill-opacity="0.8"/>
<circle cx="606.1" cy="353.9" r="4.0" fill="#e6e6e6" fill-opacity="0.8"/>
<circle cx="586.1" cy="342.1" r="4.0" fill="#e6e6e6" fill-opacity="0.8"/>
<circle cx="599.8" cy="312.7" r="4.0" fill="#e6e6e6" fill-opacity="0.8"/>
<circle cx="596.2" cy="348.8" r="4.0" fill="#e6e6e6" fill-opacity="0.8"/>
<circle cx="606.6" cy="379.7" r="4.0" fill="#e6e6e6" fill-opacity="0.8"/>
<circle cx="599.0" cy="335.6" r="4.0" fill="#e6e6e6" fill-opacity="0.8"/>
<circle cx="602.9" cy="344.9" r="4.0" fill="#e6e6e6" fill-opacity="0.8"/>
<circle cx="591.5" cy="333.4" r="4.0" fill="#e6e6e6" fill-opacity="0.8"/>
<circle cx="596.4" cy="329.1" r="4.0" fill="#e6e6e6" fill-opacity="0.8"/>
<circle cx="603.3" cy="365.9" r="4.0" fill="#e6e6e6" fill-opacity="0.8"/>
<circle cx="603.8" cy="322.5" r="4.0" fill="#e6e6e6" fill-opacity="0.8"/>
<circle cx="610.3" cy="328.0" r="4.0" fill="#e6e6e6" fill-opacity="0.8"/>
<circle cx="596.3" cy="320.1" r="4.0" fill="#e6e6e6" fill-opacity="0.8"/>
<circle cx="610.6" cy="334.1" r="4.0" fill="#e6e6e6" fill-opacity="0.8"/>
<circle cx="609.3" cy="300.5" r="4.0" fill="#e6e6e6" fill-opacity="0.8"/>
<circle cx="610.4" cy="385.8" r="4.0" fill="#e6e6e6" fill-opacity="0.8"/>
<circle cx="599.3" cy="331.6" r="4.0" fill="#e6e6e6" fill-opacity="0.8"/>
<circle cx="594.4" cy="336.6" r="4.0" fill="#e6e6e6" fill-opacity="0.8"/>
<circle cx="606.6" cy="303.9" r="4.0" fill="#e6e6e6" fill-opacity="0.8"/>
<circle cx="596.5" cy="352.6" r="4.0" fill="#e6e6e6" fill-opacity="0.8"/>
<circle cx="604.2" cy="329.9" r="4.0" fill="#e6e6e6" fill-opacity="0.8"/>
<circle cx="587.9" cy="318.0" r="4.0" fill="#e6e6e6" fill-opacity="0.8"/>
<circle cx="610.6" cy="337.7" r="4.0" fill="#e6e6e6" fill-opacity="0.8"/>
<circle cx="605.1" cy="319.2" r="4.0" fill="#e6e6e6" fill-opacity="0.8"/>
<circle cx="602.8" cy="336.8" r="4.0" fill="#e6e6e6" fill-opacity="0.8"/>
<circle cx="592.4" cy="322.6" r="4.0" fill="#e6e6e6" fill-opacity="0.8"/>
<circle cx="549.4" cy="67.9" r="4.0" fill="#497b2c" fill-opacity="0.88"/>
<circle cx="547.8" cy="93.0" r="4.0" fill="#497b2c" fill-opacity="0.88"/>
<circle cx="587.3" cy="102.1" r="4.0" fill="#497b2c" fill-opacity="0.88"/>
<circle cx="497.7" cy="132.8" r="4.0" fill="#497b2c" fill-opacity="0.88"/>
<circle cx="581.2" cy="170.3" r="4.0" fill="#497b2c" fill-opacity="0.88"/>
<circle cx="590.0" cy="182.6" r="4.0" fill="#497b2c" fill-opacity="0.88"/>
<circle cx="587.7" cy="185.6" r="4.0" fill="#497b2c" fill-opacity="0.88"/>
<circle cx="600.1" cy="191.5" r="4.0" fill="#497b2c" fill-opacity="0.88"/>
<circle cx="598.6" cy="135.9" r="4.0" fill="#e05331" fill-opacity="0.88"/>
<circle cx="594.5" cy="139.4" r="4.0" fill="#e05331" fill-opacity="0.88"/>
<circle cx="607.5" cy="142.2" r="4.0" fill="#e05331" fill-opacity="0.88"/>
<circle cx="578.2" cy="154.7" r="4.0" fill="#e05331" fill-opacity="0.88"/>
<circle cx="595.1" cy="157.5" r="4.0" fill="#e05331" fill-opacity="0.88"/>
<circle cx="608.0" cy="163.7" r="4.0" fill="#e05331" fill-opacity="0.88"/>
<circle cx="610.3" cy="167.0" r="4.0" fill="#e05331" fill-opacity="0.88"/>
<circle cx="607.1" cy="169.7" r="4.0" fill="#e05331" fill-opacity="0.88"/>
<circle cx="601.1" cy="179.3" r="4.0" fill="#e05331" fill-opacity="0.88"/>
<circle cx="602.5" cy="184.9" r="4.0" fill="#e05331" fill-opacity="0.88"/>
<circle cx="609.5" cy="191.3" r="4.0" fill="#e05331" fill-opacity="0.88"/>
<circle cx="601.5" cy="18.8" r="4.0" fill="#0e0e0e" fill-opacity="0.88"/>
<circle cx="609.1" cy="18.8" r="4.0" fill="#0e0e0e" fill-opacity="0.88"/>
<circle cx="608.0" cy="40.2" r="4.0" fill="#0e0e0e" fill-opacity="0.88"/>
<circle cx="609.9" cy="55.8" r="4.0" fill="#0e0e0e" fill-opacity="0.88"/>
<circle cx="604.3" cy="95.9" r="4.0" fill="#0e0e0e" fill-opacity="0.88"/>
<circle cx="603.6" cy="117.0" r="4.0" fill="#0e0e0e" fill-opacity="0.88"/>
<circle cx="605.0" cy="123.9" r="4.0" fill="#0e0e0e" fill-opacity="0.88"/>
<circle cx="608.4" cy="123.9" r="4.0" fill="#0e0e0e" fill-opacity="0.88"/>
<circle cx="588.2" cy="163.7" r="4.0" fill="#0e0e0e" fill-opacity="0.88"/>
<circle cx="609.3" cy="179.1" r="4.0" fill="#0e0e0e" fill-opacity="0.88"/>
<circle cx="578.6" cy="182.4" r="4.0" fill="#5f95dc" fill-opacity="0.88"/>
<circle cx="608.0" cy="219.2" r="4.0" fill="#717171" fill-opacity="0.88"/>
<rect x="39.5" y="1.8" width="259.1" height="401.5" fill="none" stroke="#8c8c8c" stroke-width="1.1"/>
<rect x="339.0" y="0.6" width="285.3" height="403.6" fill="none" stroke="#8c8c8c" stroke-width="1.1"/>
<line x1="36.9" y1="394.6" x2="39.5" y2="394.6" stroke="#8c8c8c" stroke-width="1.1"/>
<text x="35.2" y="397.8" font-size="9.3" text-anchor="end" fill="#262626" stroke="#262626" stroke-width="0.22">0.00</text>
<line x1="36.9" y1="294.9" x2="39.5" y2="294.9" stroke="#8c8c8c" stroke-width="1.1"/>
<text x="35.2" y="298.1" font-size="9.3" text-anchor="end" fill="#262626" stroke="#262626" stroke-width="0.22">0.25</text>
<line x1="36.9" y1="195.1" x2="39.5" y2="195.1" stroke="#8c8c8c" stroke-width="1.1"/>
<text x="35.2" y="198.3" font-size="9.3" text-anchor="end" fill="#262626" stroke="#262626" stroke-width="0.22">0.50</text>
<line x1="36.9" y1="95.4" x2="39.5" y2="95.4" stroke="#8c8c8c" stroke-width="1.1"/>
<text x="35.2" y="98.6" font-size="9.3" text-anchor="end" fill="#262626" stroke="#262626" stroke-width="0.22">0.75</text>
<line x1="55.3" y1="403.3" x2="55.3" y2="405.9" stroke="#8c8c8c" stroke-width="1.1"/>
<text x="55.3" y="414.6" font-size="9.3" text-anchor="middle" fill="#262626" stroke="#262626" stroke-width="0.22">1</text>
<line x1="80.7" y1="403.3" x2="80.7" y2="405.9" stroke="#8c8c8c" stroke-width="1.1"/>
<text x="80.7" y="414.6" font-size="9.3" text-anchor="middle" fill="#262626" stroke="#262626" stroke-width="0.22">2</text>
<line x1="106.1" y1="403.3" x2="106.1" y2="405.9" stroke="#8c8c8c" stroke-width="1.1"/>
<text x="106.1" y="414.6" font-size="9.3" text-anchor="middle" fill="#262626" stroke="#262626" stroke-width="0.22">3</text>
<line x1="131.5" y1="403.3" x2="131.5" y2="405.9" stroke="#8c8c8c" stroke-width="1.1"/>
<text x="131.5" y="414.6" font-size="9.3" text-anchor="middle" fill="#262626" stroke="#262626" stroke-width="0.22">4</text>
<line x1="156.9" y1="403.3" x2="156.9" y2="405.9" stroke="#8c8c8c" stroke-width="1.1"/>
<text x="156.9" y="414.6" font-size="9.3" text-anchor="middle" fill="#262626" stroke="#262626" stroke-width="0.22">5</text>
<line x1="182.2" y1="403.3" x2="182.2" y2="405.9" stroke="#8c8c8c" stroke-width="1.1"/>
<text x="182.2" y="414.6" font-size="9.3" text-anchor="middle" fill="#262626" stroke="#262626" stroke-width="0.22">6</text>
<line x1="207.6" y1="403.3" x2="207.6" y2="405.9" stroke="#8c8c8c" stroke-width="1.1"/>
<text x="207.6" y="414.6" font-size="9.3" text-anchor="middle" fill="#262626" stroke="#262626" stroke-width="0.22">7</text>
<line x1="233.0" y1="403.3" x2="233.0" y2="405.9" stroke="#8c8c8c" stroke-width="1.1"/>
<text x="233.0" y="414.6" font-size="9.3" text-anchor="middle" fill="#262626" stroke="#262626" stroke-width="0.22">8</text>
<line x1="258.4" y1="403.3" x2="258.4" y2="405.9" stroke="#8c8c8c" stroke-width="1.1"/>
<text x="258.4" y="414.6" font-size="9.3" text-anchor="middle" fill="#262626" stroke="#262626" stroke-width="0.22">9</text>
<line x1="283.8" y1="403.3" x2="283.8" y2="405.9" stroke="#8c8c8c" stroke-width="1.1"/>
<text x="283.8" y="414.6" font-size="9.3" text-anchor="middle" fill="#262626" stroke="#262626" stroke-width="0.22">10</text>
<line x1="336.4" y1="395.4" x2="339.0" y2="395.4" stroke="#8c8c8c" stroke-width="1.1"/>
<text x="334.6" y="398.6" font-size="9.3" text-anchor="end" fill="#262626" stroke="#262626" stroke-width="0.22">0.00</text>
<line x1="336.4" y1="295.1" x2="339.0" y2="295.1" stroke="#8c8c8c" stroke-width="1.1"/>
<text x="334.6" y="298.3" font-size="9.3" text-anchor="end" fill="#262626" stroke="#262626" stroke-width="0.22">0.25</text>
<line x1="336.4" y1="194.7" x2="339.0" y2="194.7" stroke="#8c8c8c" stroke-width="1.1"/>
<text x="334.6" y="197.9" font-size="9.3" text-anchor="end" fill="#262626" stroke="#262626" stroke-width="0.22">0.50</text>
<line x1="336.4" y1="94.4" x2="339.0" y2="94.4" stroke="#8c8c8c" stroke-width="1.1"/>
<text x="334.6" y="97.6" font-size="9.3" text-anchor="end" fill="#262626" stroke="#262626" stroke-width="0.22">0.75</text>
<line x1="346.6" y1="404.2" x2="346.6" y2="406.8" stroke="#8c8c8c" stroke-width="1.1"/>
<text x="346.6" y="415.0" font-size="9.3" text-anchor="middle" fill="#262626" stroke="#262626" stroke-width="0.22">0.00</text>
<line x1="412.8" y1="404.2" x2="412.8" y2="406.8" stroke="#8c8c8c" stroke-width="1.1"/>
<text x="412.8" y="415.0" font-size="9.3" text-anchor="middle" fill="#262626" stroke="#262626" stroke-width="0.22">0.25</text>
<line x1="479.1" y1="404.2" x2="479.1" y2="406.8" stroke="#8c8c8c" stroke-width="1.1"/>
<text x="479.1" y="415.0" font-size="9.3" text-anchor="middle" fill="#262626" stroke="#262626" stroke-width="0.22">0.50</text>
<line x1="545.3" y1="404.2" x2="545.3" y2="406.8" stroke="#8c8c8c" stroke-width="1.1"/>
<text x="545.3" y="415.0" font-size="9.3" text-anchor="middle" fill="#262626" stroke="#262626" stroke-width="0.22">0.75</text>
<line x1="611.5" y1="404.2" x2="611.5" y2="406.8" stroke="#8c8c8c" stroke-width="1.1"/>
<text x="611.5" y="415.0" font-size="9.3" text-anchor="middle" fill="#262626" stroke="#262626" stroke-width="0.22">1.00</text>
<text x="105.2" y="430.8" font-size="10.9" fill="#111" stroke="#111" stroke-width="0.2">Number of sampling event</text>
<text x="439.9" y="431.6" font-size="10.9" fill="#111" stroke="#111" stroke-width="0.2">Fucus specificity</text>
<text transform="translate(8.5,215.6) rotate(-90)" font-size="10.9" fill="#111" stroke="#111" stroke-width="0.2">Frequency</text>
<text x="17.4" y="11.9" font-size="14" font-weight="bold" fill="#000">(A)</text>
<text x="317.1" y="11.7" font-size="14" font-weight="bold" fill="#000">(B)</text>
<text x="640.0" y="142.7" font-size="9.1" font-weight="bold" fill="#111">Core definitions</text>
<circle cx="643.9" cy="156.9" r="5.4" fill="#2b2b2b"/>
<text x="657.8" y="158.6" font-size="8.35" fill="#262626" stroke="#262626" stroke-width="0.22">All</text>
<circle cx="643.9" cy="174.4" r="5.4" fill="#e4684a"/>
<text x="657.8" y="176.2" font-size="8.35" fill="#262626" stroke="#262626" stroke-width="0.22">0.7 IndVal + 50% frequency</text>
<circle cx="643.9" cy="191.5" r="5.4" fill="#72a2e0"/>
<text x="657.8" y="194.0" font-size="8.35" fill="#262626" stroke="#262626" stroke-width="0.22">Two-step IndVal + 50% frequency</text>
<circle cx="643.9" cy="209.3" r="5.4" fill="#5f8b45"/>
<text x="657.8" y="211.8" font-size="8.35" fill="#262626" stroke="#262626" stroke-width="0.22">50% frequency</text>
<circle cx="643.9" cy="226.4" r="5.4" fill="#828282"/>
<text x="657.8" y="228.8" font-size="8.35" fill="#262626" stroke="#262626" stroke-width="0.22">Two-step IndVal</text>
<circle cx="643.9" cy="243.1" r="5.4" fill="#ebebeb"/>
<text x="657.8" y="246.3" font-size="8.35" fill="#262626" stroke="#262626" stroke-width="0.22">Others</text>
</svg></body></html>
